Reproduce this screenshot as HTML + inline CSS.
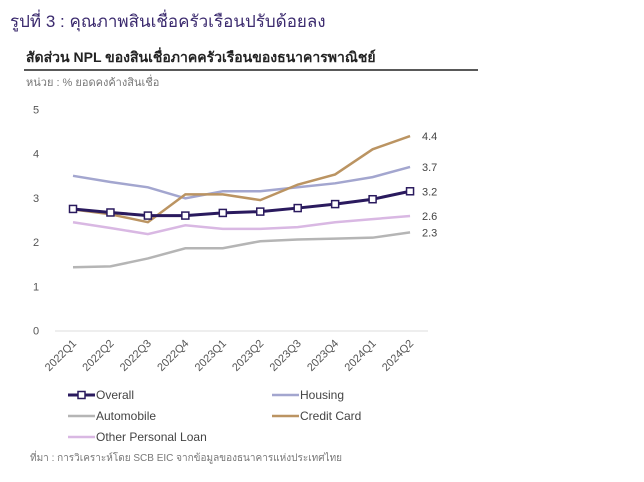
<!DOCTYPE html>
<html><head><meta charset="utf-8"><style>
body{margin:0;width:644px;height:477px;background:#fff;overflow:hidden;font-family:"Liberation Sans","Noto Sans CJK SC",sans-serif}
</style></head><body>
<svg width="644" height="477" xmlns="http://www.w3.org/2000/svg" font-family="Liberation Sans, Noto Sans CJK SC, sans-serif" id="chart">
<text x="10" y="27" font-size="17" fill="#3b2a6e">รูปที่ 3 : คุณภาพสินเชื่อครัวเรือนปรับด้อยลง</text>
<text x="26" y="62" font-size="14" font-weight="bold" fill="#222">สัดส่วน NPL ของสินเชื่อภาคครัวเรือนของธนาคารพาณิชย์</text>
<line x1="24" y1="70" x2="478" y2="70" stroke="#222" stroke-width="1.5"/>
<text x="26" y="86" font-size="11" fill="#777">หน่วย : % ยอดคงค้างสินเชื่อ</text>
<g id="plot"></g>
<text x="30" y="461" font-size="10" fill="#777">ที่มา : การวิเคราะห์โดย SCB EIC จากข้อมูลของธนาคารแห่งประเทศไทย</text>
</svg>
<script>
const categories=["2022Q1","2022Q2","2022Q3","2022Q4","2023Q1","2023Q2","2023Q3","2023Q4","2024Q1","2024Q2"];
const yTicks=[0,1,2,3,4,5];
const overall=[2.75,2.67,2.6,2.6,2.66,2.69,2.77,2.86,2.97,3.15];
const housing=[3.5,3.36,3.24,2.99,3.15,3.15,3.24,3.33,3.47,3.7];
const autoLoan=[1.43,1.45,1.63,1.86,1.86,2.02,2.06,2.08,2.1,2.22];
const creditCard=[2.74,2.63,2.45,3.08,3.08,2.95,3.3,3.53,4.1,4.4];
const otherLoan=[2.45,2.32,2.18,2.38,2.3,2.3,2.34,2.45,2.52,2.59];
const endLabels=["3.2","3.7","2.3","4.4","2.6"];
const ns="http://www.w3.org/2000/svg";
const g=document.getElementById('plot');
const x=i=>73+i*37.45;
const y=v=>330.5-v*44.2;
function mk(t,a){const e=document.createElementNS(ns,t);for(const k in a)e.setAttribute(k,a[k]);g.appendChild(e);return e;}
yTicks.forEach(t=>{const e=mk('text',{x:33,y:y(t)+4,'font-size':11,fill:'#555'});e.textContent=t;

});
const ax=mk('line',{x1:55,y1:331,x2:428,y2:331,stroke:'#ddd','stroke-width':1});


categories.forEach((c,i)=>{const e=mk('text',{x:x(i)+4,y:344,'font-size':11,fill:'#555','text-anchor':'end',transform:`rotate(-45 ${x(i)+4} 344)`});e.textContent=c;

});
const series=[
 {d:autoLoan,c:'#b5b5b5',n:'automobile-line',w:2.5,ly:4},
 {d:otherLoan,c:'#d9b8e3',n:'other-personal-loan-line',w:2.5,ly:4},
 {d:housing,c:'#a3a6cf',n:'housing-line',w:2.5,ly:4},
 {d:creditCard,c:'#bb9462',n:'credit-card-line',w:2.5,ly:4},
 {d:overall,c:'#2a1a5e',n:'overall-line',w:3,ly:4}];
const labelIdx={'overall-line':0,'housing-line':1,'automobile-line':2,'credit-card-line':3,'other-personal-loan-line':4};
series.forEach(s=>{
 const p=mk('polyline',{points:s.d.map((v,i)=>x(i)+','+y(v)).join(' '),fill:'none',stroke:s.c,'stroke-width':s.w});
 
 
 const last=s.d[s.d.length-1];
 const t=mk('text',{x:422,y:y(last)+s.ly,'font-size':11,fill:'#444'});t.textContent=endLabels[labelIdx[s.n]];
 
 
});
overall.forEach((v,i)=>{const r=mk('rect',{x:x(i)-3.5,y:y(v)-3.5,width:7,height:7,fill:'#fff',stroke:'#2a1a5e','stroke-width':1.5});

});
const legend=[['Overall','#2a1a5e',68,395,true],['Housing','#a3a6cf',272,395],['Automobile','#b5b5b5',68,416],['Credit Card','#bb9462',272,416],['Other Personal Loan','#d9b8e3',68,437]];
legend.forEach(l=>{
 const ln=mk('line',{x1:l[2],y1:l[3],x2:l[2]+27,y2:l[3],stroke:l[1],'stroke-width':l[4]?3:2.5});
 
 
 if(l[4]){const r=mk('rect',{x:l[2]+10,y:l[3]-3.5,width:7,height:7,fill:'#fff',stroke:l[1],'stroke-width':1.5});
 
 }
 const t=mk('text',{x:l[2]+28,y:l[3]+4,'font-size':12,fill:'#444'});t.textContent=l[0];
 
 
});
</script>
</body></html>
